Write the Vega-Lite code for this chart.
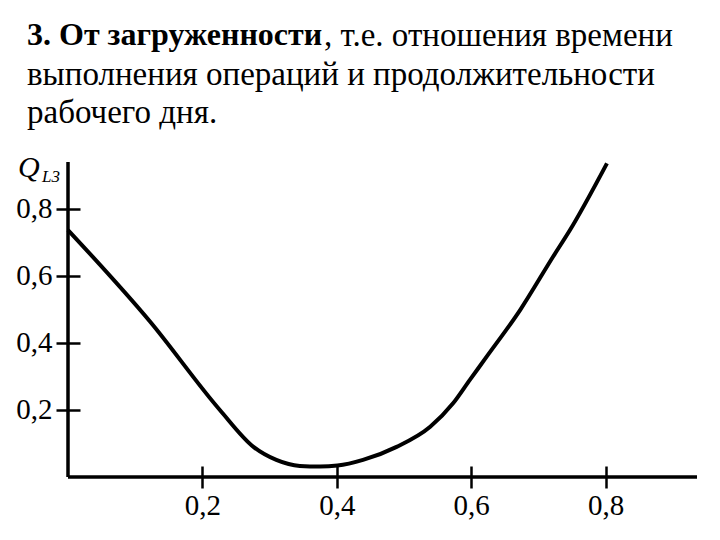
{
  "$schema": "https://vega.github.io/schema/vega-lite/v6.json",
  "width": 629,
  "height": 315,
  "autosize": {"type": "none"},
  "padding": {"left": 68, "top": 162, "right": 23, "bottom": 63},
  "background": "white",
  "config": {"view": {"stroke": null}, "font": "Liberation Serif, DejaVu Serif, serif"},
  "title": {
    "text": "3. От загруженности",
    "subtitle": [
      "\u200b\u00a0\u00a0\u00a0\u00a0\u00a0\u00a0\u00a0\u00a0\u00a0\u00a0\u00a0\u00a0\u00a0\u00a0\u00a0\u00a0\u00a0\u00a0\u00a0\u00a0\u00a0\u00a0\u00a0\u00a0\u00a0\u00a0\u00a0\u00a0\u00a0\u00a0\u00a0\u00a0\u00a0\u00a0\u00a0\u00a0, т.е. отношения времени",
      "выполнения операций и продолжительности",
      "рабочего дня."
    ],
    "anchor": "start",
    "frame": "group",
    "dx": -41,
    "fontSize": 32,
    "fontWeight": "bold",
    "color": "black",
    "font": "Liberation Serif, DejaVu Serif, serif",
    "subtitleFont": "Liberation Serif, DejaVu Serif, serif",
    "subtitleFontSize": 33,
    "subtitleColor": "black",
    "subtitleFontWeight": "normal",
    "subtitleLineHeight": 38.5,
    "subtitlePadding": -32,
    "offset": 22
  },
  "layer": [
    {
      "data": {
        "values": [
          {"x": 0.0, "y": 0.737},
          {"x": 0.122, "y": 0.464},
          {"x": 0.226, "y": 0.2},
          {"x": 0.276, "y": 0.09},
          {"x": 0.31, "y": 0.051},
          {"x": 0.345, "y": 0.033},
          {"x": 0.375, "y": 0.031},
          {"x": 0.401, "y": 0.034},
          {"x": 0.439, "y": 0.051},
          {"x": 0.489, "y": 0.09},
          {"x": 0.539, "y": 0.15},
          {"x": 0.573, "y": 0.22},
          {"x": 0.598, "y": 0.29},
          {"x": 0.623, "y": 0.359},
          {"x": 0.673, "y": 0.499},
          {"x": 0.722, "y": 0.658},
          {"x": 0.747, "y": 0.737},
          {"x": 0.802, "y": 0.936}
        ]
      },
      "mark": {"type": "line", "interpolate": "monotone", "color": "black", "strokeWidth": 4},
      "encoding": {
        "x": {
          "field": "x", "type": "quantitative",
          "scale": {"domain": [0, 0.936], "nice": false, "zero": false},
          "axis": {
            "title": null, "values": [0.2, 0.4, 0.6, 0.8], "format": ".1f",
            "labelExpr": "replace(datum.label, '.', ',')",
            "domain": false, "grid": false, "offset": -11, "tickSize": 22,
            "tickWidth": 2.5, "tickColor": "black", "labelPadding": 3,
            "labelFont": "Liberation Serif", "labelFontSize": 29, "labelColor": "black"
          }
        },
        "y": {
          "field": "y", "type": "quantitative",
          "scale": {"domain": [0, 0.94], "nice": false, "zero": false},
          "axis": {
            "title": null, "values": [0.2, 0.4, 0.6, 0.8], "format": ".1f",
            "labelExpr": "replace(datum.label, '.', ',')",
            "domain": false, "grid": false, "offset": -12, "tickSize": 24,
            "tickWidth": 2.5, "tickColor": "black", "labelPadding": 4,
            "labelFont": "Liberation Serif", "labelFontSize": 29, "labelColor": "black"
          }
        }
      }
    },
    {
      "data": {"values": [{"x": 0}]},
      "mark": {"type": "rule", "color": "black", "strokeWidth": 3.5},
      "encoding": {"x": {"field": "x", "type": "quantitative"}}
    },
    {
      "data": {"values": [{"y": 0}]},
      "mark": {"type": "rule", "color": "black", "strokeWidth": 3.5},
      "encoding": {"y": {"field": "y", "type": "quantitative"}}
    },
    {
      "data": {"values": [{"t": "Q"}]},
      "mark": {"type": "text", "font": "Liberation Serif", "fontStyle": "italic", "fontSize": 30, "align": "left", "baseline": "alphabetic", "dx": -50, "dy": 15, "color": "black", "clip": false},
      "encoding": {"x": {"datum": 0}, "y": {"datum": 0.94}, "text": {"field": "t"}}
    },
    {
      "data": {"values": [{"t": "L3"}]},
      "mark": {"type": "text", "font": "Liberation Serif", "fontStyle": "italic", "fontSize": 17, "align": "left", "baseline": "alphabetic", "dx": -26, "dy": 20, "color": "black", "clip": false},
      "encoding": {"x": {"datum": 0}, "y": {"datum": 0.94}, "text": {"field": "t"}}
    }
  ]
}
